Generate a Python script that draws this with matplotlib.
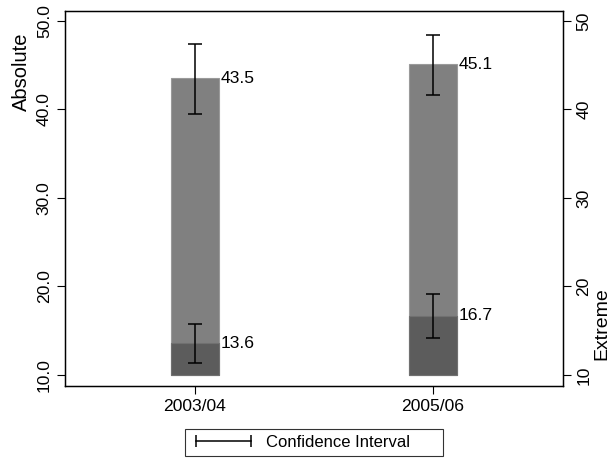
import numpy as np
import matplotlib
matplotlib.use("Agg")
import matplotlib.pyplot as plt
from matplotlib.lines import Line2D

plt.rcParams['font.family'] = ['Liberation Sans', 'DejaVu Sans']

periods = ["2003/04", "2005/06"]
absolute = [43.5, 45.1]
absolute_lo = [39.5, 41.6]
absolute_hi = [47.4, 48.4]
extreme = [13.6, 16.7]
extreme_lo = [11.4, 14.2]
extreme_hi = [15.8, 19.1]
left_ticks = [10, 20, 30, 40, 50]
right_ticks = [10, 20, 30, 40, 50]

x = np.arange(1, len(periods) + 1)
base = 10
w = 0.2
fs = 12.6

fig = plt.figure(figsize=(6.14, 4.59), dpi=100)
ax = fig.add_axes([0.1059, 0.1601, 0.8111, 0.8166])

ax.bar(x, np.array(absolute) - base, bottom=base, width=w,
       color='#808080', edgecolor='#9a9a9a', linewidth=0.8, zorder=2)
ax.bar(x, np.array(extreme) - base, bottom=base, width=w,
       color='#5c5c5c', edgecolor='#707070', linewidth=0.8, zorder=3)

for lo, hi in [(absolute_lo, absolute_hi), (extreme_lo, extreme_hi)]:
    mid = (np.array(lo) + np.array(hi)) / 2
    ax.errorbar(x, mid, yerr=(np.array(hi) - np.array(lo)) / 2, fmt='none',
                ecolor='black', elinewidth=1.1, capsize=5, capthick=1.1, zorder=4)

for xi, v in zip(x, absolute):
    ax.annotate(f"{v:.1f}", (xi + w / 2, v), xytext=(1.5, 0), textcoords='offset points',
                va='center', ha='left', fontsize=fs)
for xi, v in zip(x, extreme):
    ax.annotate(f"{v:.1f}", (xi + w / 2, v), xytext=(1.5, 0), textcoords='offset points',
                va='center', ha='left', fontsize=fs)

ax.set_xlim(0.454, 2.546)
ax.set_ylim(8.81, 51.16)
ax.set_xticks(x)
ax.set_xticklabels(periods, fontsize=fs)
ax.set_yticks(left_ticks)
ax.set_yticklabels([f"{t:.1f}" for t in left_ticks], rotation=90, va='center', fontsize=fs)
ax.tick_params(direction='out', length=6, width=0.8)
ax.set_ylabel("Absolute", fontsize=14.5)
ax.yaxis.set_label_coords(-0.068, 0.836)
for s in ax.spines.values():
    s.set_linewidth(1.0)

ax2 = ax.twinx()
ax2.set_ylim(8.81, 51.16)
ax2.set_yticks(right_ticks)
ax2.set_yticklabels([str(t) for t in right_ticks], rotation=90, va='center', fontsize=fs)
ax2.tick_params(direction='out', length=6, width=0.8)
ax2.set_ylabel("Extreme", fontsize=14)
ax2.yaxis.set_label_coords(1.060, 0.164)

ci = Line2D([], [], color='black', lw=1.1, marker='|', markersize=9, markeredgewidth=1.1)
top = 1 - 429 / 459
leg = fig.legend([ci], ["Confidence Interval"], loc='upper left', numpoints=2,
                 bbox_to_anchor=(185 / 614, top - 0.05, 258 / 614, 0.05), mode='expand',
                 borderaxespad=0, fancybox=False, edgecolor='black', fontsize=12,
                 handlelength=3.9, handletextpad=0.6, borderpad=0.35)
leg.get_frame().set_linewidth(0.8)

fig.savefig("out.png", dpi=100)
